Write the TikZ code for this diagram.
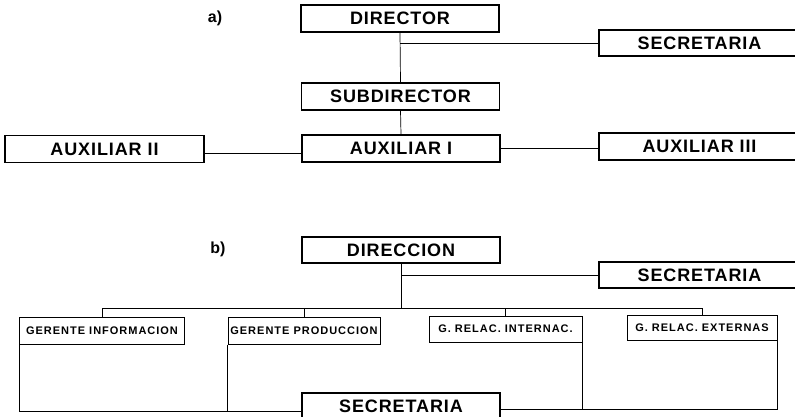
\documentclass[tikz,border=0pt]{standalone}
\usepackage{fontspec}
\setmainfont{Liberation Sans}
\newfontfamily\bigboxfont[LetterSpace=5]{Liberation Sans}
\newfontfamily\smallboxfont[LetterSpace=9]{Liberation Sans}
\usetikzlibrary{positioning}

\begin{document}
\begin{tikzpicture}[x=1pt, y=-1pt,
    box/.style={draw, line width=1.1pt, minimum width=198pt, minimum height=27pt,
      inner sep=0pt, font=\bigboxfont\bfseries\fontsize{18}{18}\selectfont},
    smallbox/.style={draw, line width=1pt, minimum height=27pt, inner sep=0pt,
      font=\smallboxfont\bfseries\fontsize{11}{11}\selectfont},
    link/.style={line width=0.7pt},
    partlabel/.style={font=\bfseries\fontsize{16}{16}\selectfont}]
  \useasboundingbox (0,0) rectangle (795,417);
  \clip (0,0) rectangle (795,417);
  % Part a
  \node[partlabel] (la) at (215,18) {a)};
  \node[box] (dir) at (400,18.5) {DIRECTOR};
  \node[box, minimum width=201pt, minimum height=26pt] (seca) at (699.5,43) {SECRETARIA};
  \node[box] (sub) at (400.5,96.5) {SUBDIRECTOR};
  \node[box] (aux1) at (401,148.5) {AUXILIAR I};
  \node[box, minimum width=199pt] (aux2) at (104.5,149) {AUXILIAR II};
  \node[box, minimum width=201pt] (aux3) at (699.5,146.5) {AUXILIAR III};
  \coordinate (auxl) at ([yshift=-4pt]aux2.east);
  \draw[link] (dir.south) -- (sub.north);
  \draw[link] (dir.south |- seca.west) -- (seca.west);
  \draw[link] (sub.south) -- (aux1.north);
  \draw[link] (auxl) -- (auxl -| aux1.west);
  \draw[link] (aux1.east) -- (aux1.east -| aux3.west);
  % Part b
  \node[partlabel] (lb) at (218,249) {b)};
  \node[box, minimum height=26pt] (dirb) at (401,250) {DIRECCION};
  \node[box, minimum width=201pt, minimum height=26pt] (secb) at (699.5,275) {SECRETARIA};
  \node[smallbox, minimum width=165pt] (gi) at (102,330.5) {GERENTE INFORMACION};
  \node[smallbox, minimum width=152pt] (gp) at (304,330.5) {GERENTE PRODUCCION};
  \node[smallbox, minimum width=153pt, minimum height=26pt] (gri) at (505.5,329) {G. RELAC. INTERNAC.};
  \node[smallbox, minimum width=150pt, minimum height=25pt] (gre) at (702,327.5) {G. RELAC. EXTERNAS};
  \node[box] (sec2) at (401,406.5) {SECRETARIA};
  \coordinate (busb) at (401,308);
  \coordinate (secl) at ([yshift=-5pt]sec2.west);
  \coordinate (secr) at ([yshift=-3pt]sec2.east);
  \draw[link] (dirb.south) -- (busb);
  \draw[link] (dirb.south |- secb.west) -- (secb.west);
  \draw[link] (gi.north) -- (gi.north |- busb) -- (gre.north |- busb) -- (gre.north);
  \draw[link] (gp.north) -- (gp.north |- busb);
  \draw[link] (gri.north) -- (gri.north |- busb);
  \draw[link] (gi.south west) |- (secl);
  \draw[link] (gp.south west) -- (gp.south west |- secl);
  \draw[link] (gre.south east) |- (secr);
  \draw[link] (gri.south east) -- (gri.south east |- secr);
\end{tikzpicture}
\end{document}
